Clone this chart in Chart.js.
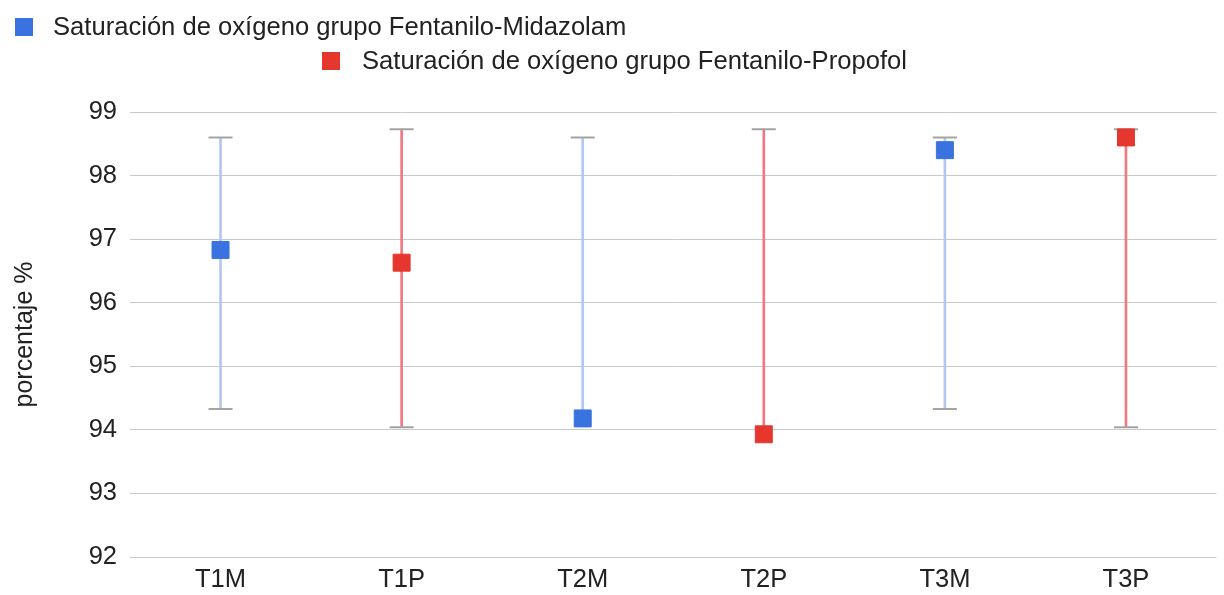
<!DOCTYPE html>
<html lang="es">
<head>
<meta charset="utf-8">
<title>Saturación de oxígeno</title>
<script src="https://cdn.jsdelivr.net/npm/chart.js@4.4.1/dist/chart.umd.min.js"></script>
<style>
  html, body { margin: 0; padding: 0; background: #ffffff; }
  #wrap { position: relative; width: 1224px; height: 595px; font-family: "Liberation Sans", Arial, Helvetica, sans-serif; }
  #chart { position: absolute; left: 0; top: 0; }
  .legend-item { position: absolute; display: flex; align-items: center; color: #222222; font-size: 25.6px; line-height: 29px; white-space: nowrap; }
  .legend-item .swatch { width: 18px; height: 18px; margin-right: 20px; }
</style>
</head>
<body>
<div id="wrap">
  <canvas id="chart" width="1224" height="595"></canvas>
  <div class="legend-item" style="left:15px; top:12px;"><span class="swatch" style="background:#3a72e0"></span><span>Saturación de oxígeno grupo Fentanilo-Midazolam</span></div>
  <div class="legend-item" style="left:322px; top:46px;"><span class="swatch" style="background:#e5372e; margin-right:22px"></span><span>Saturación de oxígeno grupo Fentanilo-Propofol</span></div>
</div>
<script>
// Time points: T1..T3 for each anaesthesia group (M = Midazolam, P = Propofol)
const categories = ['T1M', 'T1P', 'T2M', 'T2P', 'T3M', 'T3P'];

// Mean oxygen saturation (%)
const midazolamSat = [96.83, null, 94.18, null, 98.40, null];
const propofolSat  = [null, 96.63, null, 93.93, null, 98.60];

// Interval limits (%)
const midazolamLow  = [94.33, null, 94.18, null, 94.33, null];
const midazolamHigh = [98.60, null, 98.60, null, 98.60, null];
const propofolLow   = [null, 94.04, null, 93.93, null, 94.04];
const propofolHigh  = [null, 98.73, null, 98.73, null, 98.73];

// Y axis range and tick step
const yMin = 92;
const yMax = 99;
const yStep = 1;

const BLUE = '#3a72e0';
const RED = '#e5372e';
const FONT = '"Liberation Sans", Arial, Helvetica, sans-serif';

const ranges = (low, high) => low.map((v, i) => (v == null ? null : [v, high[i]]));
// a lower cap is only drawn where the limit lies below the mean marker
const lowerCaps = (low, mean) => low.map((v, i) => (v != null && v < mean[i] ? v : null));

const capSet = (values) => ({
  type: 'line',
  data: values,
  showLine: false,
  pointStyle: 'line',
  pointRadius: 12,
  pointBorderColor: '#a3a3a3',
  pointBorderWidth: 2,
  order: 1
});

const markerSet = (values, color) => ({
  type: 'line',
  data: values,
  showLine: false,
  pointStyle: 'rect',
  pointRadius: 12,
  pointBackgroundColor: color,
  pointBorderColor: color,
  pointBorderWidth: 1,
  order: 0
});

new Chart(document.getElementById('chart'), {
  type: 'bar',
  data: {
    labels: categories,
    datasets: [
      { type: 'bar', data: ranges(midazolamLow, midazolamHigh), backgroundColor: '#b3c6f2', barThickness: 2, grouped: false, order: 2 },
      { type: 'bar', data: ranges(propofolLow, propofolHigh), backgroundColor: '#f27784', barThickness: 2, grouped: false, order: 2 },
      capSet(midazolamHigh),
      capSet(lowerCaps(midazolamLow, midazolamSat)),
      capSet(propofolHigh),
      capSet(lowerCaps(propofolLow, propofolSat)),
      markerSet(midazolamSat, BLUE),
      markerSet(propofolSat, RED)
    ]
  },
  options: {
    responsive: false,
    animation: false,
    events: [],
    layout: { autoPadding: false, padding: { top: 112, left: 10, right: 7.5, bottom: 0 } },
    plugins: { legend: { display: false }, tooltip: { enabled: false } },
    scales: {
      x: {
        grid: { display: false, drawTicks: false },
        border: { display: false },
        ticks: { color: '#222222', font: { family: FONT, size: 25.5 }, padding: 8 },
        afterFit: (scale) => { scale.height = 38; }
      },
      y: {
        min: yMin,
        max: yMax,
        grid: { color: '#c9c9c9', lineWidth: 1, drawTicks: false },
        border: { display: false },
        ticks: { stepSize: yStep, color: '#222222', font: { family: FONT, size: 25.5 }, padding: 13 },
        title: { display: true, text: 'porcentaje %', color: '#222222', font: { family: FONT, size: 25 }, padding: 0 },
        afterFit: (scale) => { scale.width = 120; }
      }
    }
  }
});
</script>
</body>
</html>
